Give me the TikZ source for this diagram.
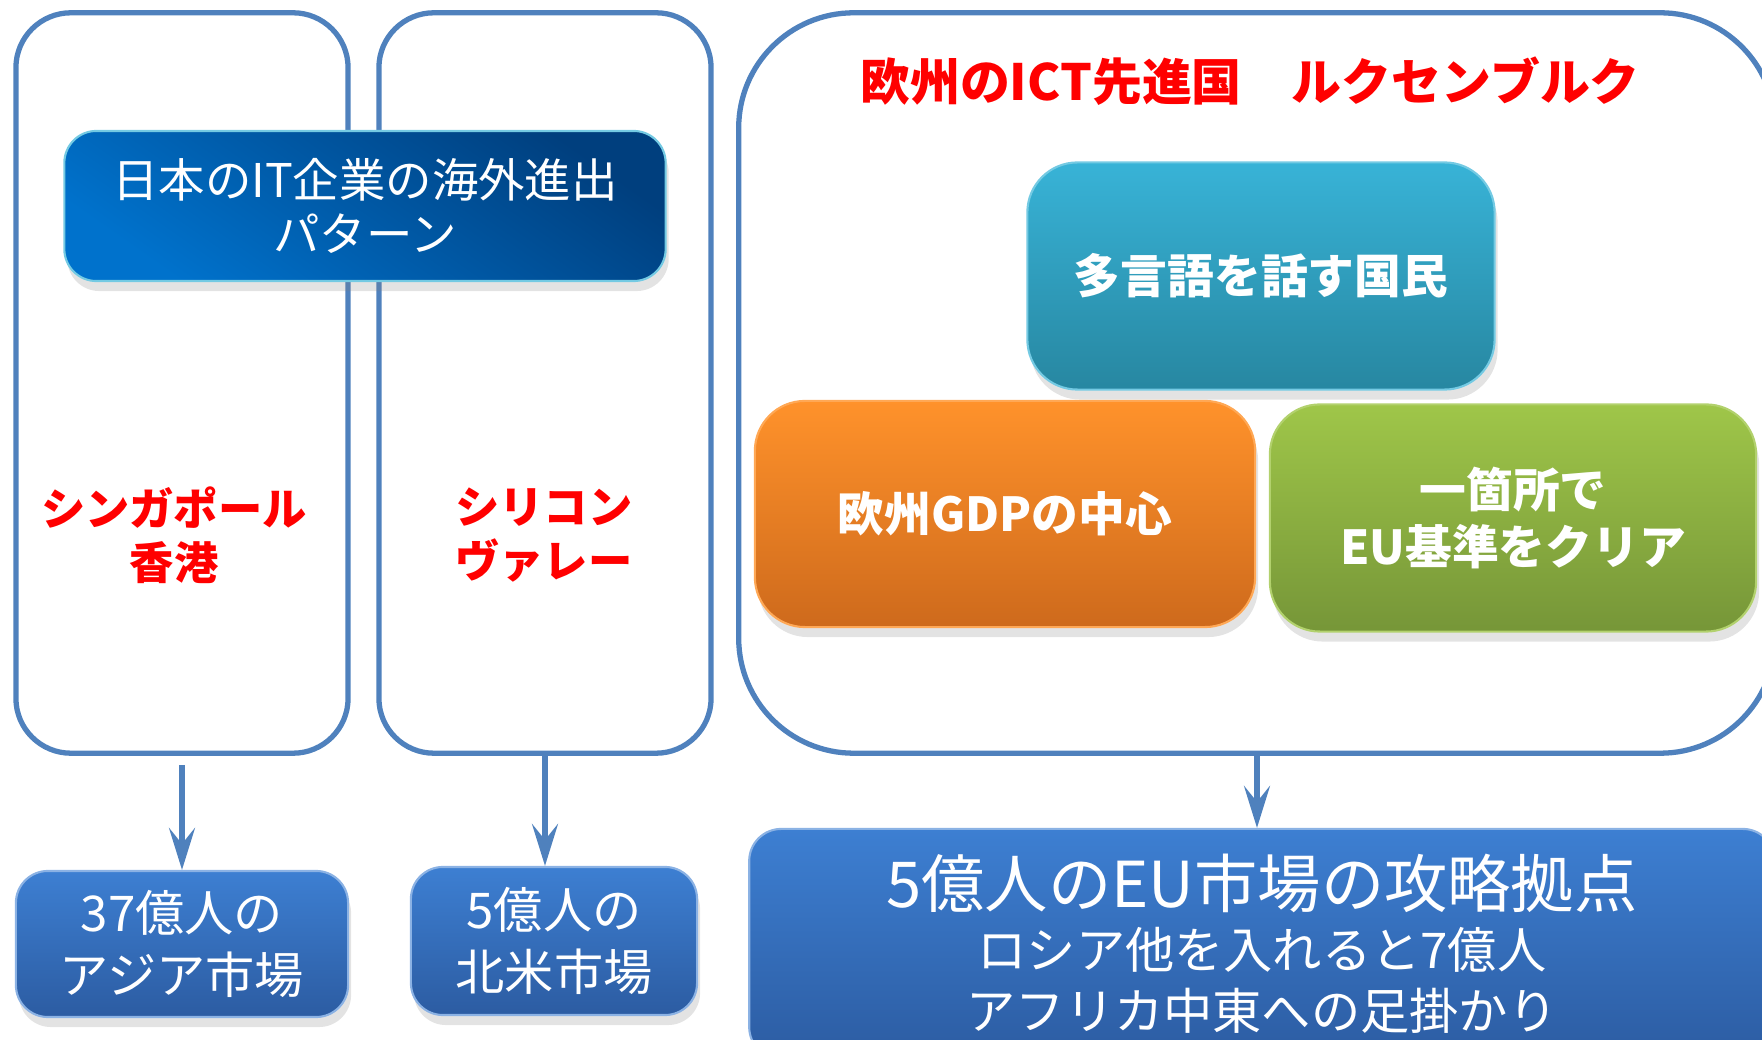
\documentclass[tikz,border=0pt]{standalone}
\usepackage{fontspec}
\setmainfont{Noto Sans CJK JP}
\usepackage{xcolor}
\usepackage{tikz}
\usetikzlibrary{arrows.meta,shadows,positioning}

\definecolor{frameblue}{HTML}{4F81BD}
\definecolor{titletop}{HTML}{003F7E}
\definecolor{titlebot}{HTML}{0072CC}
\definecolor{cyantop}{HTML}{38B3D7}
\definecolor{cyanbot}{HTML}{2787A1}
\definecolor{orangetop}{HTML}{FF922B}
\definecolor{orangebot}{HTML}{CE6A1C}
\definecolor{greentop}{HTML}{9FC649}
\definecolor{greenbot}{HTML}{769638}
\definecolor{mkttop}{HTML}{3D7FD2}
\definecolor{mktbot}{HTML}{2C5CA2}
\definecolor{alertred}{HTML}{FF0000}

\begin{document}
\begin{tikzpicture}[x=0.01cm,y=-0.01cm,
    frame/.style={draw=frameblue,line width=1.5pt},
    tile/.style={rounded corners=0.5cm,text=white,align=center,
        drop shadow={opacity=0.22,shadow xshift=0.3mm,shadow yshift=-1mm}},
    market/.style={tile,rounded corners=0.32cm,draw=mkttop!60!white,line width=0.6pt,
        top color=mkttop,bottom color=mktbot},
    redlabel/.style={text=alertred,align=center,font=\bfseries\fontsize{12.6}{15.4}\selectfont},
    flow/.style={draw=frameblue,line width=1.5pt,-{Stealth[length=4.2mm,width=2.6mm,inset=1.6mm]}}]
    \clip (0,0) rectangle (1762,1040);
    % outer frames
    \node[frame,rounded corners=0.55cm,minimum width=3.32cm,minimum height=7.4cm] (asia) at (182,383) {};
    \node[frame,rounded corners=0.55cm,minimum width=3.32cm,minimum height=7.4cm] (valley) at (545,383) {};
    \node[frame,rounded corners=1.15cm,minimum width=10.36cm,minimum height=7.4cm] (lux) at (1257,383) {};
    % title
    \node[tile,rounded corners=0.32cm,draw=cyantop!70!white,line width=0.6pt,
        top color=titletop,bottom color=titlebot,shading angle=-35,
        minimum width=6.01cm,minimum height=1.5cm,
        font=\fontsize{13.2}{15.4}\selectfont] (title) at (365,206) {日本のIT企業の海外進出\\パターン};
    \node[redlabel] (sgtext) at (174,535) {シンガポール\\香港};
    \node[redlabel] (svtext) at (544,535) {シリコン\\ヴァレー};
    \node[text=alertred,font=\bfseries\fontsize{14.2}{17}\selectfont] (luxtitle) at (1250,81) {欧州のICT先進国　ルクセンブルク};
    % strengths
    \node[tile,draw=cyantop!70!white,line width=0.6pt,top color=cyantop,bottom color=cyanbot,
        minimum width=4.67cm,minimum height=2.27cm,
        font=\bfseries\fontsize{13.3}{16}\selectfont] (lang) at (1261,276) {多言語を話す国民};
    \node[tile,draw=orangetop!80!white,line width=0.6pt,top color=orangetop,bottom color=orangebot,
        minimum width=5cm,minimum height=2.26cm,
        font=\bfseries\fontsize{13.3}{16}\selectfont] (gdp) at (1005,514) {欧州GDPの中心};
    \node[tile,draw=greentop!80!white,line width=0.6pt,top color=greentop,bottom color=greenbot,
        minimum width=4.86cm,minimum height=2.27cm,
        font=\bfseries\fontsize{13.3}{16.2}\selectfont] (eurule) at (1513,518) {一箇所で\\EU基準をクリア};
    % markets
    \node[market,minimum width=3.32cm,minimum height=1.46cm,
        font=\fontsize{14}{17.6}\selectfont] (asiamkt) at (182,944) {37億人の\\アジア市場};
    \node[market,minimum width=2.86cm,minimum height=1.48cm,
        font=\fontsize{14}{17.6}\selectfont] (namkt) at (554,941) {5億人の\\北米市場};
    \node[market,minimum width=10.25cm,minimum height=2.3cm,
        font=\fontsize{14}{17.4}\selectfont] (eumkt) at (1262,944)
        {{\fontsize{18}{19}\selectfont 5億人のEU市場の攻略拠点}\\ロシア他を入れると7億人\\アフリカ中東への足掛かり};
    % arrows
    \draw[flow,shorten <=0.09cm] (asia) -- (asiamkt);
    \draw[flow] (valley.south) -- (valley.south |- namkt.north);
    \draw[flow] (lux.south) -- (lux.south |- eumkt.north);
\end{tikzpicture}
\end{document}
